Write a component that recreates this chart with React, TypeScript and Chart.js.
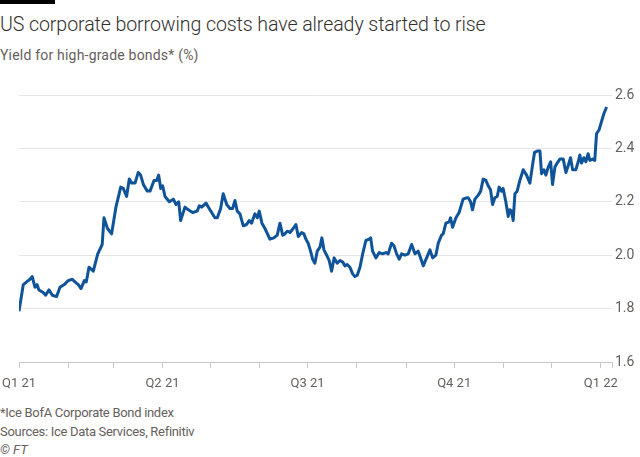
import React, { useEffect, useRef } from "react";
import { Chart, registerables } from "chart.js";

Chart.register(...registerables);

// Day offsets from 1 Jan 2021
const days: number[] = [
  0, 2.7, 4.8, 6.9, 8.3, 10, 11.3, 12.5, 15.2, 16.7, 18.8, 20.9, 23.6, 25.7, 28.4, 30.9, 33.4, 35.1, 37.2, 38.9,
  41, 42.2, 43.9, 46.6, 49.4, 52.2, 53.3, 55.5, 58.1, 60.8, 63.8, 65.4, 67.5, 69.2, 70.7, 72.8, 74.8, 76.3, 78,
  80.5, 82.2, 84.7, 86.4, 87.6, 88.9, 90.1, 91.6, 94.3, 96.8, 98.5, 100.2, 101.4, 104.1, 106.2, 108.9, 111.8,
  113.1, 114.6, 117.3, 119.3, 122.9, 124.4, 126.5, 128.1, 130.3, 132.3, 134, 135.5, 136.9, 138.6, 140.7, 142.8,
  144.4, 145.9, 148, 149.5, 150.7, 152.4, 154.3, 157.4, 159.9, 162, 163.7, 165.4, 166.8, 168.3, 170, 172, 173.7,
  175.2, 177.3, 178.7, 180, 181.4, 182.9, 184.2, 185.6, 187.1, 188.8, 190, 191.3, 193, 194.6, 196.1, 197.7,
  199.6, 201.3, 203, 204.5, 205.9, 207.6, 209.3, 210.7, 212.2, 213.9, 215.6, 217.6, 219.7, 220.6, 221.8, 223.9,
  226, 228.1, 230.2, 231.6, 233.7, 235.2, 236.9, 238.5, 240, 242.1, 244.2, 246.3, 248.4, 250.4, 251.9, 253.6,
  255.7, 257.8, 259.5, 261.5, 263, 265.1, 266.1, 267.8, 269.9, 270.7, 272, 274.1, 276.1, 278.6, 280.8, 281.8,
  283.3, 284.5, 286, 288.1, 289.6, 291.2, 292.9, 294.3, 295.8, 297.1, 298.5, 300, 301.2, 302.7, 303.7, 305.4,
  306.9, 307.9, 309, 310, 311.1, 312.5, 314.2, 316.3, 318.4, 320.5, 322.2, 323.4, 325.1, 326.8, 327.8, 329.3,
  330.5, 332, 333.5, 334.7, 336.2, 337.6, 339.3, 341.4, 343.1, 344.5, 346, 347.3, 349.3, 350.8, 351.8, 352.9,
  354.3, 355.6, 357, 358.1, 359.8, 361.2, 362.3, 363.9, 365.4, 366.9, 368.6,
];

// Yield (%)
const yields: number[] = [
  1.79, 1.89, 1.9, 1.91, 1.92, 1.88, 1.89, 1.87, 1.86, 1.85, 1.87, 1.85, 1.845, 1.88, 1.89, 1.905, 1.91, 1.9, 1.89, 1.875,
  1.905, 1.9, 1.955, 1.94, 2.005, 2.04, 2.14, 2.1, 2.08, 2.18, 2.255, 2.25, 2.22, 2.285, 2.27, 2.27, 2.31, 2.3, 2.265,
  2.24, 2.24, 2.28, 2.28, 2.3, 2.25, 2.26, 2.22, 2.2, 2.21, 2.19, 2.2, 2.13, 2.18, 2.17, 2.16, 2.165,
  2.185, 2.18, 2.195, 2.175, 2.14, 2.14, 2.175, 2.23, 2.19, 2.175, 2.175, 2.205, 2.165, 2.155, 2.11, 2.115,
  2.13, 2.12, 2.155, 2.14, 2.165, 2.12, 2.1, 2.06, 2.065, 2.075, 2.12, 2.075, 2.08, 2.09, 2.085, 2.1, 2.115,
  2.07, 2.085, 2.08, 2.06, 2.045, 2.015, 1.985, 1.97, 2.015, 2.03, 2.065, 2.02, 2.0, 1.98, 1.94, 1.99,
  1.97, 1.98, 1.975, 1.96, 1.965, 1.955, 1.93, 1.92, 1.925, 1.955, 2.005, 2.055, 2.06, 2.065, 2.015, 1.99,
  2.01, 2.005, 2.01, 2.005, 2.045, 2.035, 2.005, 1.985, 2.005, 2.0, 2.005, 2.04, 2.005, 2.015, 1.99, 1.96,
  1.99, 2.02, 1.99, 2.0, 2.045, 2.075, 2.08, 2.12, 2.125, 2.14, 2.105, 2.14, 2.16, 2.21, 2.215, 2.215,
  2.2, 2.17, 2.21, 2.225, 2.24, 2.285, 2.28, 2.26, 2.245, 2.19, 2.215, 2.22, 2.255, 2.24, 2.25, 2.2,
  2.145, 2.17, 2.165, 2.13, 2.23, 2.24, 2.28, 2.32, 2.3, 2.27, 2.34, 2.385, 2.39, 2.39, 2.305, 2.32,
  2.3, 2.33, 2.35, 2.265, 2.33, 2.345, 2.36, 2.36, 2.31, 2.335, 2.365, 2.32, 2.32, 2.35, 2.375, 2.345,
  2.365, 2.35, 2.38, 2.355, 2.36, 2.355, 2.455, 2.47, 2.5, 2.53, 2.555,
];

// Month-start tick positions (days from 1 Jan 2021)
const monthTicks: number[] = [0, 31, 59, 90, 120, 151, 181, 212, 243, 273, 304, 334, 365, 372];
const quarterTickDays: number[] = [0, 90, 181, 273, 365];
const quarterLabels: string[] = ["Q1 21", "Q2 21", "Q3 21", "Q4 21", "Q1 22"];
const yTicks: number[] = [1.6, 1.8, 2.0, 2.2, 2.4, 2.6];

const FONT = "Roboto, 'Noto Sans', sans-serif";

export default function App() {
  const canvasRef = useRef<HTMLCanvasElement | null>(null);

  useEffect(() => {
    document.body.style.margin = "0";
    document.body.style.background = "#ffffff";
    const canvas = canvasRef.current;
    if (!canvas) return;
    const chart = new Chart(canvas, {
      type: "line",
      data: {
        datasets: [
          {
            data: days.map((d, i) => ({ x: d, y: yields[i] })),
            borderColor: "#0f5499",
            borderWidth: 3,
            pointRadius: 0,
            tension: 0,
            fill: false,
            borderJoinStyle: "round",
          },
        ],
      },
      options: {
        animation: false,
        responsive: false,
        maintainAspectRatio: false,
        layout: { padding: { left: 19, top: 15, right: 0, bottom: 0 } },
        plugins: { legend: { display: false }, tooltip: { enabled: false } },
        scales: {
          x: {
            type: "linear",
            min: 0,
            max: 372,
            afterBuildTicks: (scale: any) => {
              scale.ticks = monthTicks.map((v) => ({ value: v }));
            },
            afterFit: (scale: any) => {
              scale.height = 38;
              scale.paddingLeft = 0;
              scale.paddingRight = 0;
            },
            ticks: {
              autoSkip: false,
              maxRotation: 0,
              padding: 8,
              color: "#66605c",
              font: { family: FONT, size: 13 },
              callback: (value: any) => {
                const idx = quarterTickDays.indexOf(Number(value));
                return idx >= 0 ? quarterLabels[idx] : "";
              },
            },
            grid: {
              drawOnChartArea: false,
              drawTicks: true,
              tickLength: 6,
              color: "#c8c8c8",
            },
            border: { display: true, color: "#c8c8c8" },
          },
          y: {
            position: "right",
            min: 1.6,
            max: 2.6,
            afterBuildTicks: (scale: any) => {
              scale.ticks = yTicks.map((v) => ({ value: v }));
            },
            afterFit: (scale: any) => {
              scale.width = 28;
            },
            ticks: {
              padding: 3,
              color: "#66605c",
              font: { family: FONT, size: 14 },
              callback: (value: any) => Number(value).toFixed(1),
            },
            grid: {
              color: "#e6e6e6",
              drawTicks: false,
            },
            border: { display: false },
          },
        },
      },
    } as any);
    return () => chart.destroy();
  }, []);

  const text = (style: React.CSSProperties, content: React.ReactNode) => (
    <div style={{ position: "absolute", whiteSpace: "nowrap", fontFamily: FONT, ...style }}>{content}</div>
  );

  return (
    <div style={{ position: "relative", width: 640, height: 457, background: "#fff", overflow: "hidden" }}>
      <div style={{ position: "absolute", left: 0, top: 0, width: 55, height: 4, background: "#000" }} />
      {text({ left: 0, top: 13, fontSize: 19.6, fontWeight: 300, color: "#33302e", letterSpacing: -0.1 }, "US corporate borrowing costs have already started to rise")}
      {text({ left: 0, top: 47, fontSize: 14, color: "#66605c", letterSpacing: 0.2 }, "Yield for high-grade bonds* (%)")}
      <canvas ref={canvasRef} width={640} height={320} style={{ position: "absolute", left: 0, top: 80, width: 640, height: 320 }} />
      {text({ left: 0, top: 405, fontSize: 13, color: "#66605c", letterSpacing: -0.3 }, "*Ice BofA Corporate Bond index")}
      {text({ left: 0, top: 424, fontSize: 13, color: "#66605c", letterSpacing: -0.3 }, "Sources: Ice Data Services, Refinitiv")}
      {text({ left: 0, top: 442, fontSize: 13, color: "#66605c", fontStyle: "italic" }, "© FT")}
    </div>
  );
}
